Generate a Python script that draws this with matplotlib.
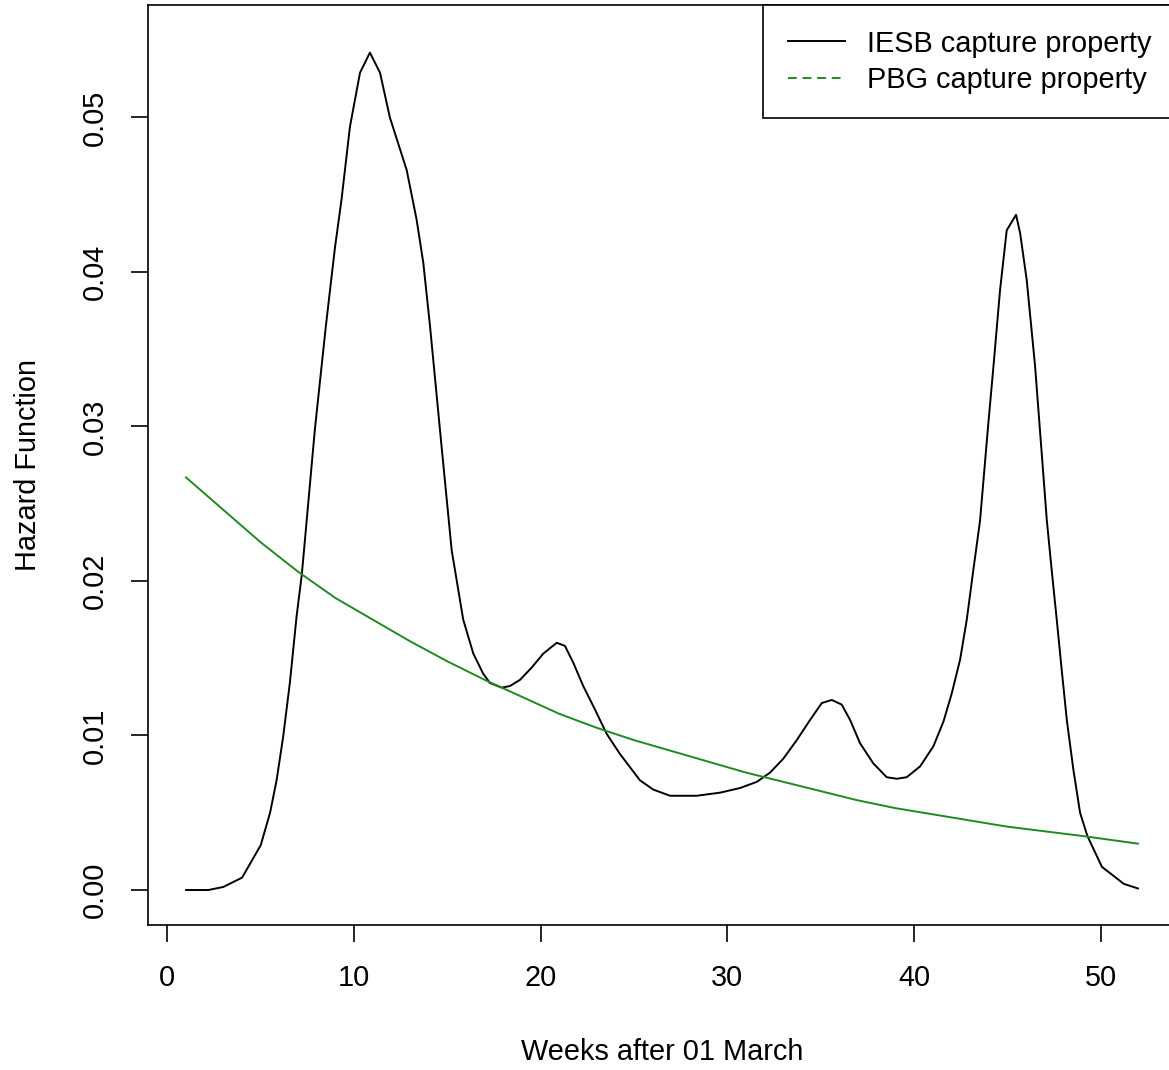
import matplotlib.pyplot as plt
from matplotlib.lines import Line2D

plt.rcParams['font.family'] = ['Liberation Sans', 'DejaVu Sans']

# IESB capture property hazard
iesb_weeks = [1.0, 2.2, 3.0, 4.0, 5.0, 5.5, 5.85, 6.2, 6.56, 6.92, 7.2, 7.9,
              8.49, 8.71, 8.98, 9.33, 9.78, 10.32, 10.85, 11.39, 11.92, 12.82,
              13.35, 13.71, 14.07, 14.65, 15.23, 15.85, 16.39, 16.92, 17.28,
              17.91, 18.35, 18.89, 19.52, 20.14, 20.86, 21.3, 21.75, 22.28,
              22.82, 23.54, 24.25, 25.32, 26.03, 26.93, 28.36, 29.61, 30.68,
              31.58, 32.29, 33.0, 33.72, 34.43, 35.06, 35.6, 36.13, 36.58,
              37.11, 37.82, 38.54, 39.08, 39.61, 40.33, 41.04, 41.58, 42.02,
              42.47, 42.83, 43.18, 43.54, 43.97, 44.26, 44.61, 44.97, 45.47,
              45.69, 46.04, 46.49, 47.12, 47.38, 47.65, 47.92, 48.19, 48.54,
              48.9, 49.29, 50.07, 51.24, 52.0]
iesb_hazard = [0.0, 0.0, 0.0002, 0.0008, 0.0029, 0.0050, 0.0071, 0.0099, 0.0134,
               0.0177, 0.0204, 0.0298, 0.0365, 0.0388, 0.0416, 0.0447, 0.0494,
               0.0529, 0.0542, 0.0529, 0.0500, 0.0466, 0.0434, 0.0406, 0.0365,
               0.0292, 0.0220, 0.0175, 0.0153, 0.0140, 0.0134, 0.0131, 0.0132,
               0.0136, 0.0144, 0.0153, 0.0160, 0.0158, 0.0147, 0.0132, 0.0119,
               0.0101, 0.0088, 0.0071, 0.0065, 0.0061, 0.0061, 0.0063, 0.0066,
               0.0070, 0.0076, 0.0085, 0.0097, 0.0110, 0.0121, 0.0123, 0.0120,
               0.0110, 0.0095, 0.0082, 0.0073, 0.0072, 0.0073, 0.0080, 0.0093,
               0.0109, 0.0127, 0.0149, 0.0175, 0.0207, 0.0239, 0.0300, 0.0339,
               0.0388, 0.0427, 0.0437, 0.0425, 0.0395, 0.0339, 0.0239, 0.0207,
               0.0175, 0.0142, 0.0110, 0.0078, 0.0050, 0.0035, 0.0015, 0.0004,
               0.0001]

# PBG capture property hazard
pbg_weeks = [1, 3, 5, 7, 9, 11, 13, 15, 17, 19, 21, 23, 25, 27, 29, 31, 33,
             35, 37, 39, 41, 43, 45, 47, 49, 52]
pbg_hazard = [0.0267, 0.0246, 0.0225, 0.0206, 0.0189, 0.0175, 0.0161, 0.0148,
              0.0136, 0.0125, 0.0114, 0.0105, 0.0097, 0.0090, 0.0083, 0.0076,
              0.0070, 0.0064, 0.0058, 0.0053, 0.0049, 0.0045, 0.0041, 0.0038,
              0.0035, 0.0030]

x_ticks = [0, 10, 20, 30, 40, 50]
y_ticks = [0.00, 0.01, 0.02, 0.03, 0.04, 0.05]
y_ticklabels = ["0.00", "0.01", "0.02", "0.03", "0.04", "0.05"]

fig = plt.figure(figsize=(11.69, 10.70), dpi=100)
ax = fig.add_axes([148 / 1169, 145 / 1070, 1028 / 1169, 920 / 1070])

ax.plot(iesb_weeks, iesb_hazard, color="black", lw=1.4)
ax.plot(pbg_weeks, pbg_hazard, color="#1f8a1f", lw=1.4)

ax.set_xlim(-1.04, 54.04)
ax.set_ylim(-0.002265, 0.05728)
ax.set_xticks(x_ticks)
ax.set_yticks(y_ticks)
ax.set_yticklabels(y_ticklabels, rotation=90, va="center")
ax.tick_params(direction="out", length=12, width=1.2, labelsize=20.8, pad=16)
for s in ax.spines.values():
    s.set_linewidth(1.2)

ax.set_xlabel("Weeks after 01 March", fontsize=20.8, va="center")
ax.xaxis.set_label_coords(0.5, -0.138)
ax.set_ylabel("Hazard Function", fontsize=20.8, va="center")
ax.yaxis.set_label_coords(-0.1167, 0.5)

handles = [Line2D([], [], color="black", lw=1.4),
           Line2D([], [], color="#1f8a1f", lw=1.4, linestyle=(0, (4.5, 3)))]
leg = ax.legend(handles, ["IESB capture property", "PBG capture property"],
                loc="upper right", bbox_to_anchor=(1, 1), borderaxespad=0,
                fontsize=20.8, frameon=True, fancybox=False, framealpha=1,
                edgecolor="black", handlelength=2.0, handletextpad=0.75,
                labelspacing=0.29, borderpad=0.85)
leg.get_frame().set_linewidth(1.2)

fig.savefig("out.png", dpi=100)
